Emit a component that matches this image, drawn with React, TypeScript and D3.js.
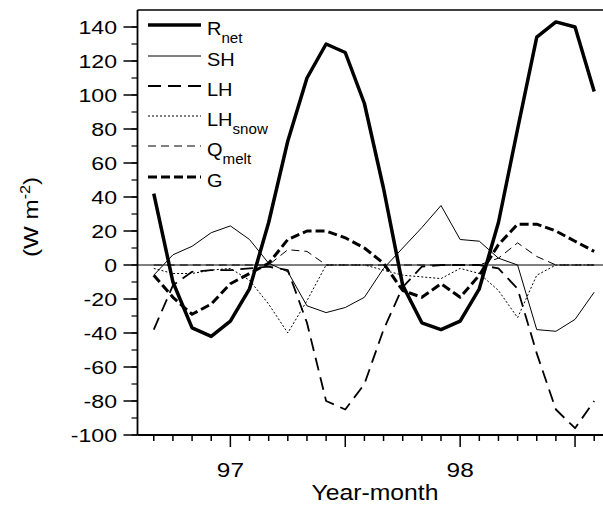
import React from 'react';
import * as d3 from 'd3';

const WIDTH = 603;
const HEIGHT = 506;

// months Sep 1996 .. Aug 1998 (index 0 = Sep 96)
const months = d3.range(24);

const rnet = [42, -10, -37, -42, -33, -14, 25, 73, 110, 130, 125, 95, 45, -12, -34, -38, -33, -14, 25, 80, 134, 143, 140, 102];
const sh = [-6, 6, 11, 19, 23, 15, 1, -4, -24, -28, -25, -19, -2, 10, 22, 35, 15, 14, 4, 0, -38, -39, -32, -16];
const lh = [-38, -12, -4, -3, -3, -2, -1, -3, -34, -80, -85, -70, -38, -13, -1, 0, 0, 0, -2, -14, -52, -85, -96, -80];
const lhSnow = [-2, -5, -5, -3, -2, -9, -23, -40, -21, 0, 0, 0, -3, -6, -7, -8, -2, -5, -15, -31, -6, 0, 0, 0];
const qMelt = [0, 0, 0, 0, 0, 0, 0, 9, 8, 0, 0, 0, 0, 0, 0, 0, 0, 0, 4, 13, 5, 0, 0, 0];
const g = [-6, -19, -29, -23, -11, -5, 1, 15, 20, 20, 16, 10, 1, -15, -19, -11, -19, -6, 12, 24, 24, 20, 14, 8];

const yTicks = [-100, -80, -60, -40, -20, 0, 20, 40, 60, 80, 100, 120, 140];
const yearLabels = [{ label: '97', month: 4 }, { label: '98', month: 16 }];

const series = [
  { name: 'R', sub: 'net', values: rnet, width: 3.5, dash: 'none' },
  { name: 'SH', sub: '', values: sh, width: 1, dash: 'none' },
  { name: 'LH', sub: '', values: lh, width: 1.8, dash: '13 7' },
  { name: 'LH', sub: 'snow', values: lhSnow, width: 1, dash: '2 2' },
  { name: 'Q', sub: 'melt', values: qMelt, width: 1, dash: '8 5' },
  { name: 'G', sub: '', values: g, width: 3, dash: '9 4' },
];

const legendY = [25, 56, 86, 116, 146, 177];

const FONT = '"Liberation Sans", Arial, Helvetica, sans-serif';

export default function App() {
  const left = 137.5;
  const right = 603;
  const top = 10;
  const bottom = 435;

  const x = d3.scaleLinear().domain([-0.85, 23.46]).range([left, right]);
  const y = d3.scaleLinear().domain([-100, 150]).range([bottom, top]);

  const line = d3.line<number>().x((_, i) => x(i)).y(d => y(d));

  const minorY = d3.range(-100, 150, 10);

  return (
    <svg width={WIDTH} height={HEIGHT} style={{ position: 'absolute', left: 0, top: 0 }} fontFamily={FONT}>
      <rect width={WIDTH} height={HEIGHT} fill="white" />
      {/* frame */}
      <line x1={left} x2={left} y1={top} y2={bottom} stroke="black" strokeWidth={1.8} />
      <line x1={left} x2={right} y1={bottom} y2={bottom} stroke="black" strokeWidth={1.8} />
      <line x1={left} x2={right} y1={top} y2={top} stroke="black" strokeWidth={1.5} />
      <line x1={left} x2={right} y1={y(0)} y2={y(0)} stroke="black" strokeWidth={1} />

      {/* y axis */}
      {minorY.map(v => (
        <line key={'my' + v} x1={left - 6} x2={left} y1={y(v)} y2={y(v)} stroke="black" strokeWidth={1.2} />
      ))}
      {yTicks.map(v => (
        <g key={'y' + v}>
          <line x1={left - 14} x2={left} y1={y(v)} y2={y(v)} stroke="black" strokeWidth={1.5} />
          <text transform={`translate(117,${y(v) + 6.5}) scale(1.25,1)`} textAnchor="end" fontSize={18.5}>{v}</text>
        </g>
      ))}
      <text transform={`translate(38,217) rotate(-90) scale(1.15,1)`} textAnchor="middle" fontSize={21}>
        (W m<tspan dy={-8} fontSize={14}>-2</tspan><tspan dy={8}>)</tspan>
      </text>

      {/* x axis */}
      {months.map(m => {
        const major = (m + 8) % 6 === 0;
        return (
          <line key={'x' + m} x1={x(m)} x2={x(m)} y1={bottom} y2={bottom + (major ? 12 : 6)} stroke="black" strokeWidth={1.5} />
        );
      })}
      {yearLabels.map(d => (
        <text key={d.label} transform={`translate(${x(d.month)},477) scale(1.25,1)`} textAnchor="middle" fontSize={19.5}>{d.label}</text>
      ))}
      <text transform="translate(375,500) scale(1.15,1)" textAnchor="middle" fontSize={21.5}>Year-month</text>

      {/* series */}
      {series.map((s, i) => (
        <path key={'s' + i} d={line(s.values) || ''} fill="none" stroke="black" strokeWidth={s.width}
          strokeDasharray={s.dash} strokeLinejoin="round" />
      ))}

      {/* legend */}
      {series.map((s, i) => (
        <g key={'l' + i}>
          <line x1={148} x2={201} y1={legendY[i]} y2={legendY[i]} stroke="black" strokeWidth={s.width} strokeDasharray={s.dash} />
          <text transform={`translate(207,${legendY[i] + 10}) scale(1.08,1)`} fontSize={18.5}>
            {s.name}
            {s.sub && <tspan dy={8} fontSize={14}>{s.sub}</tspan>}
          </text>
        </g>
      ))}
    </svg>
  );
}
